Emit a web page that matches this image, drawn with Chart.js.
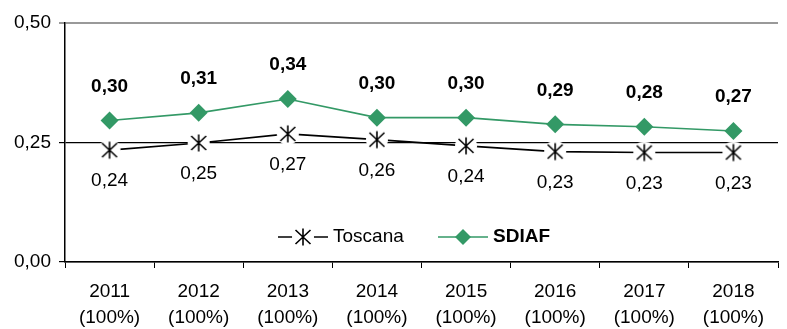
<!DOCTYPE html>
<html>
<head>
<meta charset="utf-8">
<script src="https://cdn.jsdelivr.net/npm/chart.js@4/dist/chart.umd.min.js"></script>
<style>
    html, body { margin: 0; padding: 0; background: #fff; }
    #wrap { width: 787px; height: 329px; }
</style>
</head>
<body>
<div id="wrap"><canvas id="chart"></canvas></div>
<script>
const years = ['2011', '2012', '2013', '2014', '2015', '2016', '2017', '2018'];
const coverage = ['(100%)', '(100%)', '(100%)', '(100%)', '(100%)', '(100%)', '(100%)', '(100%)'];
const toscana = [0.234, 0.249, 0.268, 0.256, 0.243, 0.231, 0.229, 0.229];
const sdiaf = [0.296, 0.312, 0.341, 0.302, 0.302, 0.288, 0.283, 0.274];
const toscanaLabels = ['0,24', '0,25', '0,27', '0,26', '0,24', '0,23', '0,23', '0,23'];
const sdiafLabels = ['0,30', '0,31', '0,34', '0,30', '0,30', '0,29', '0,28', '0,27'];
const yTicks = [0, 0.25, 0.5];

const green = '#339966';
const font = '"Liberation Sans", Arial, sans-serif';

// asterisk marker with white halo (breaks lines around it)
function makeStar() {
    const c = document.createElement('canvas');
    c.width = 24; c.height = 24;
    const g = c.getContext('2d');
    g.fillStyle = '#fff';
    g.beginPath();
    g.arc(12, 12, 11, 0, Math.PI * 2);
    g.fill();
    g.strokeStyle = '#000';
    g.lineWidth = 1.6;
    g.beginPath();
    g.moveTo(4.5, 5); g.lineTo(19.5, 19);
    g.moveTo(19.5, 5); g.lineTo(4.5, 19);
    g.moveTo(12, 3.5); g.lineTo(12, 20.5);
    g.stroke();
    return c;
}
const star = makeStar();

// value labels above / below points
const valueLabels = {
    id: 'valueLabels',
    afterDatasetsDraw(chart) {
        const ctx = chart.ctx;
        ctx.save();
        ctx.textAlign = 'center';
        ctx.textBaseline = 'middle';
        ctx.fillStyle = '#000';
        chart.getDatasetMeta(0).data.forEach((pt, i) => {
            ctx.font = '19px ' + font;
            ctx.fillText(toscanaLabels[i], pt.x, pt.y + 31);
        });
        chart.getDatasetMeta(1).data.forEach((pt, i) => {
            ctx.font = 'bold 19px ' + font;
            ctx.fillText(sdiafLabels[i], pt.x, pt.y - 34);
        });
        ctx.restore();
    }
};

// legend inside the plot, bottom centre
const innerLegend = {
    id: 'innerLegend',
    afterDatasetsDraw(chart) {
        const ctx = chart.ctx;
        const y = chart.chartArea.bottom - 25;
        ctx.save();
        ctx.textBaseline = 'middle';
        ctx.fillStyle = '#000';

        // Toscana
        ctx.strokeStyle = '#000';
        ctx.lineWidth = 1.5;
        ctx.beginPath();
        ctx.moveTo(278, y); ctx.lineTo(328, y);
        ctx.stroke();
        ctx.drawImage(star, 303 - 12, y - 12);
        ctx.font = '19px ' + font;
        ctx.fillText('Toscana', 333, y);

        // SDIAF
        ctx.strokeStyle = green;
        ctx.lineWidth = 1.5;
        ctx.beginPath();
        ctx.moveTo(438, y); ctx.lineTo(488, y);
        ctx.stroke();
        ctx.fillStyle = green;
        ctx.beginPath();
        ctx.moveTo(463, y - 8); ctx.lineTo(471, y); ctx.lineTo(463, y + 8); ctx.lineTo(455, y);
        ctx.closePath();
        ctx.fill();
        ctx.fillStyle = '#000';
        ctx.font = 'bold 19px ' + font;
        ctx.fillText('SDIAF', 493, y);
        ctx.restore();
    }
};

new Chart(document.getElementById('chart'), {
    type: 'line',
    data: {
        labels: years.map((y, i) => [y, coverage[i]]),
        datasets: [
            {
                label: 'Toscana',
                data: toscana,
                borderColor: '#000',
                borderWidth: 1.6,
                pointStyle: star,
                tension: 0
            },
            {
                label: 'SDIAF',
                data: sdiaf,
                borderColor: green,
                backgroundColor: green,
                borderWidth: 1.6,
                pointStyle: 'rectRot',
                pointRadius: 9,
                pointBorderWidth: 0,
                tension: 0
            }
        ]
    },
    options: {
        responsive: true,
        maintainAspectRatio: false,
        animation: false,
        layout: { padding: { top: 23, right: 0, left: 0, bottom: 0 } },
        plugins: {
            legend: { display: false },
            tooltip: { enabled: false }
        },
        scales: {
            x: {
                offset: true,
                grid: {
                    drawOnChartArea: false,
                    tickLength: 6,
                    color: '#000',
                    offset: true
                },
                border: { color: '#000', width: 1.5 },
                ticks: {
                    color: '#000',
                    font: { family: font, size: 19, lineHeight: 1.4 },
                    maxRotation: 0,
                    autoSkip: false,
                    padding: 10
                },
                afterFit(axis) { axis.height = 67; }
            },
            y: {
                min: 0,
                max: 0.5,
                afterBuildTicks(axis) {
                    axis.ticks = yTicks.map(v => ({ value: v }));
                },
                grid: {
                    color: ctx => ctx.tick && ctx.tick.value === 0.5 ? '#999' : '#000',
                    lineWidth: ctx => ctx.tick && ctx.tick.value === 0.5 ? 2 : 1.2,
                    tickLength: 6
                },
                border: { color: '#000', width: 1.5 },
                ticks: {
                    color: '#000',
                    font: { family: font, size: 19 },
                    padding: 8,
                    callback: v => v.toFixed(2).replace('.', ',')
                },
                afterFit(axis) { axis.width = 65; }
            }
        }
    },
    plugins: [valueLabels, innerLegend]
});
</script>
</body>
</html>
